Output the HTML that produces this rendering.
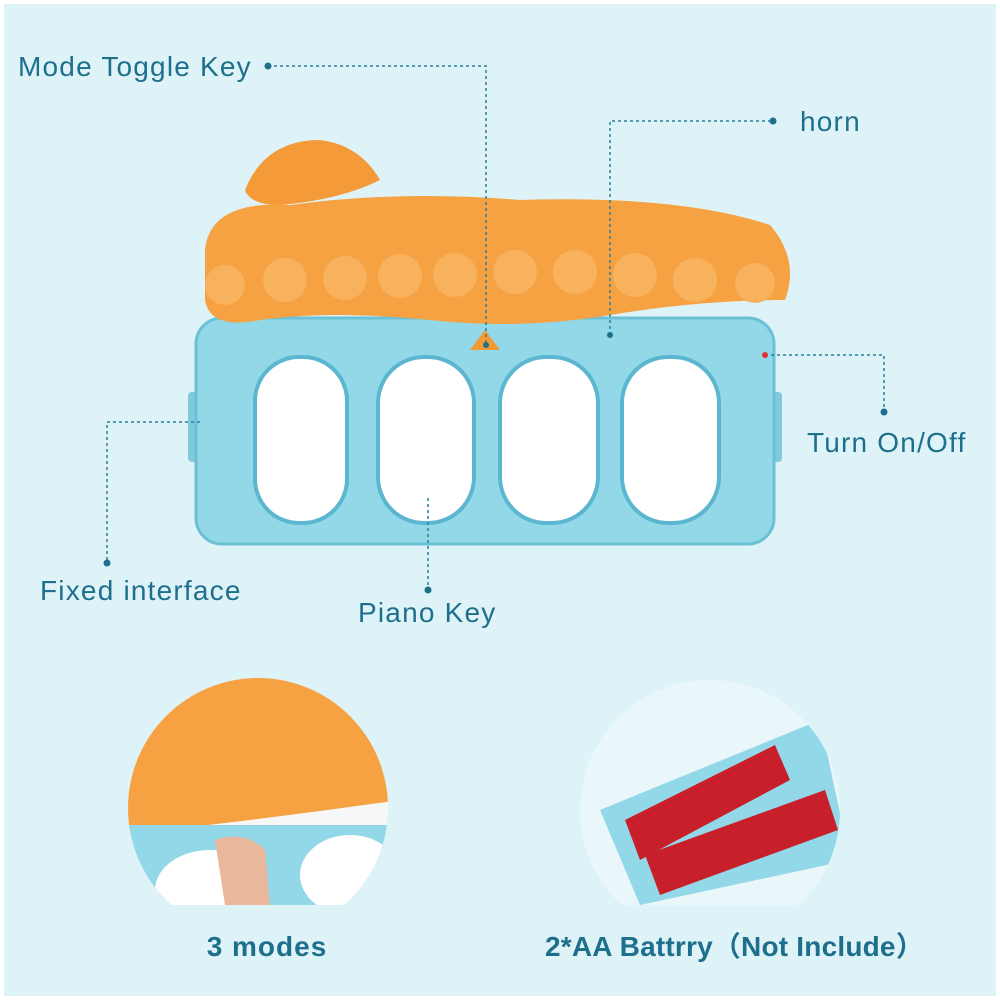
<!DOCTYPE html>
<html><head><meta charset="utf-8"><style>
html,body{margin:0;padding:0;width:1000px;height:1000px;overflow:hidden;background:#fff}
svg{display:block}
text{font-family:"Liberation Sans","Noto Sans CJK SC",sans-serif;fill:#1e6f8c}
</style></head><body>
<svg width="1000" height="1000" viewBox="0 0 1000 1000">
<rect x="4" y="4" width="992" height="992" fill="#ddf3f8"/>
<rect x="188" y="392" width="20" height="70" rx="4" fill="#7fcadc"/>
<rect x="762" y="392" width="20" height="70" rx="4" fill="#7fcadc"/>
<rect x="196" y="318" width="578" height="226" rx="26" fill="#92d8e8"/>
<rect x="196" y="318" width="578" height="226" rx="26" fill="none" stroke="#6cc0d6" stroke-width="3"/>
<path d="M205 250 Q210 200 290 205 Q400 190 520 200 Q680 195 770 225 Q800 260 785 300 Q700 300 610 315 Q520 330 430 320 Q330 310 260 320 Q210 330 205 300 Z" fill="#f6a142"/>
<path d="M245 190 Q265 140 320 140 Q360 145 380 180 Q340 200 280 205 Q250 205 245 190 Z" fill="#f49a38"/>
<g fill="#f8b25e">
<circle cx="225" cy="285" r="20"/><circle cx="285" cy="280" r="22"/><circle cx="345" cy="278" r="22"/><circle cx="400" cy="276" r="22"/><circle cx="455" cy="275" r="22"/><circle cx="515" cy="272" r="22"/><circle cx="575" cy="272" r="22"/><circle cx="635" cy="275" r="22"/><circle cx="695" cy="280" r="22"/><circle cx="755" cy="283" r="20"/>
</g>
<g fill="#fff" stroke="#5bb7cf" stroke-width="4">
<rect x="255" y="357" width="92" height="166" rx="44"/>
<rect x="378" y="357" width="96" height="166" rx="46"/>
<rect x="500" y="357" width="98" height="166" rx="46"/>
<rect x="622" y="357" width="97" height="166" rx="46"/>
</g>
<path d="M470 350 L485 330 L500 350 Z" fill="#f39a33"/>
<g stroke="#2a7f99" stroke-width="1.5" stroke-dasharray="3,3" fill="none">
<path d="M268 66 H486 V345"/>
<path d="M610 335 V121 H773"/>
<path d="M765 355 H884 V412"/>
<path d="M200 422 H107 V563"/>
<path d="M428 498 V590"/>
</g>
<g fill="#1e6f8c">
<circle cx="268" cy="66" r="3.5"/><circle cx="773" cy="121" r="3.5"/><circle cx="884" cy="412" r="3.5"/><circle cx="107" cy="563" r="3.5"/><circle cx="428" cy="590" r="3.5"/><circle cx="486" cy="345" r="3"/><circle cx="610" cy="335" r="3"/><circle cx="765" cy="355" r="3" fill="#d33"/>
</g>
<g font-size="28" letter-spacing="1.2">
<text x="18" y="76">Mode Toggle Key</text>
<text x="800" y="131">horn</text>
<text x="807" y="452">Turn On/Off</text>
<text x="40" y="600">Fixed interface</text>
<text x="358" y="622">Piano Key</text>
</g>
<defs>
<clipPath id="c1"><circle cx="258" cy="808" r="130"/></clipPath>
<clipPath id="c2"><circle cx="710" cy="810" r="130"/></clipPath>
<clipPath id="cut"><rect x="0" y="0" width="1000" height="905"/></clipPath>
</defs>
<g clip-path="url(#cut)">
<g clip-path="url(#c1)">
<rect x="100" y="660" width="320" height="260" fill="#f7f7f7"/>
<path d="M120 670 L400 670 L400 800 Q260 820 120 835 Z" fill="#f6a142"/>
<rect x="120" y="825" width="280" height="90" fill="#92d8e8"/>
<ellipse cx="210" cy="890" rx="55" ry="40" fill="#fff"/>
<ellipse cx="350" cy="875" rx="50" ry="40" fill="#fff"/>
<path d="M215 840 Q245 830 265 850 L270 905 L225 905 Z" fill="#e8b79c"/>
</g>
<g clip-path="url(#c2)">
<rect x="570" y="670" width="290" height="250" fill="#eaf7fa"/>
<path d="M600 810 L820 720 L850 860 L640 905 Z" fill="#92d8e8"/>
<path d="M625 820 L775 745 L790 780 L640 860 Z" fill="#c8202a"/>
<path d="M645 855 L825 790 L838 830 L660 895 Z" fill="#c8202a"/>
</g>
</g>
<g font-size="28" font-weight="bold">
<text x="267" y="956" text-anchor="middle" letter-spacing="1">3 modes</text>
<text x="545" y="956" letter-spacing="0.2">2*AA Battrry（Not Include）</text>
</g>
</svg>
</body></html>
